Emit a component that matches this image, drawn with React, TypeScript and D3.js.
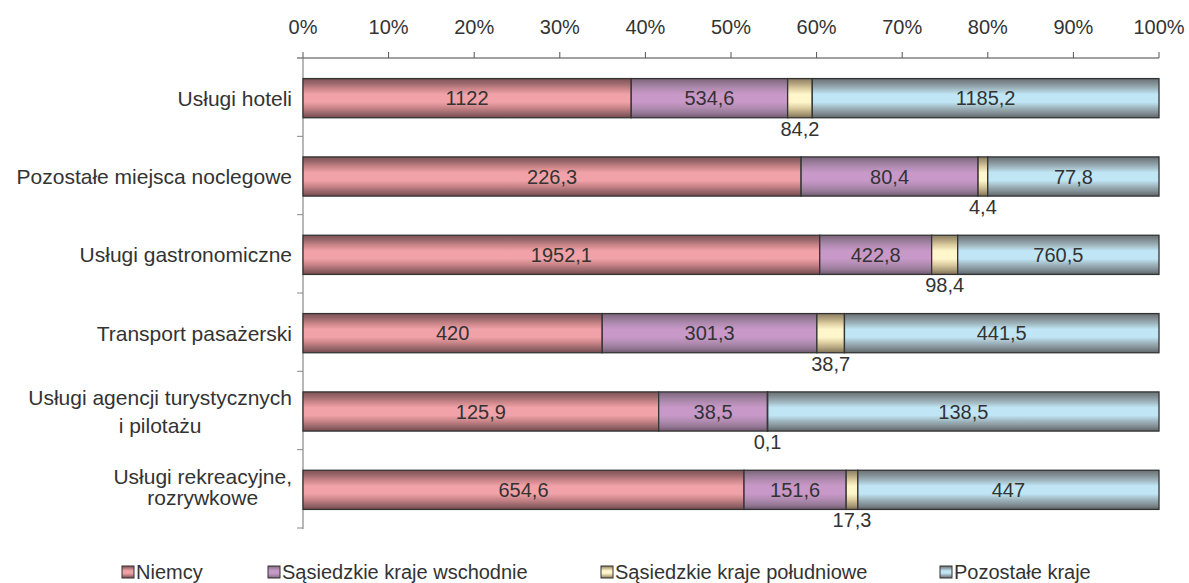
import React, { useEffect, useRef } from "react";
import * as d3 from "d3";

const categories = [
  "Usługi hoteli",
  "Pozostałe miejsca noclegowe",
  "Usługi gastronomiczne",
  "Transport pasażerski",
  "Usługi agencji turystycznych\ni pilotażu",
  "Usługi rekreacyjne,\nrozrywkowe",
];
const seriesNames = [
  "Niemcy",
  "Sąsiedzkie kraje wschodnie",
  "Sąsiedzkie kraje południowe",
  "Pozostałe kraje",
];
const niemcy = [1122, 226.3, 1952.1, 420, 125.9, 654.6];
const wschodnie = [534.6, 80.4, 422.8, 301.3, 38.5, 151.6];
const poludniowe = [84.2, 4.4, 98.4, 38.7, 0.1, 17.3];
const pozostale = [1185.2, 77.8, 760.5, 441.5, 138.5, 447];
const tickValues = [0, 0.1, 0.2, 0.3, 0.4, 0.5, 0.6, 0.7, 0.8, 0.9, 1];

const W = 1189;
const H = 583;
const FONT = "'Liberation Sans', Arial, Helvetica, sans-serif";
const TEXT = "#333";

const gradients: { id: string; stops: [number, string][] }[] = [
  {
    id: "g0",
    stops: [
      [0, "#7e5256"], [0.12, "#9a686c"], [0.25, "#c88488"], [0.4, "#f0a2a8"],
      [0.6, "#f0a2a8"], [0.75, "#c88488"], [0.88, "#9a686c"], [1, "#744a4e"],
    ],
  },
  {
    id: "g1",
    stops: [
      [0, "#7a6479"], [0.12, "#957996"], [0.25, "#b08bb0"], [0.4, "#c898c8"],
      [0.6, "#c898c8"], [0.75, "#b08bb0"], [0.88, "#957996"], [1, "#6f596f"],
    ],
  },
  {
    id: "g2",
    stops: [
      [0, "#8a7c60"], [0.12, "#b0a07c"], [0.25, "#dccca0"], [0.4, "#fff6cc"],
      [0.6, "#fff6cc"], [0.75, "#dccca0"], [0.88, "#b0a07c"], [1, "#7e7054"],
    ],
  },
  {
    id: "g3",
    stops: [
      [0, "#687074"], [0.12, "#828e94"], [0.25, "#9eb4bc"], [0.4, "#c0e6f6"],
      [0.6, "#c0e6f6"], [0.75, "#9eb4bc"], [0.88, "#828e94"], [1, "#5e666a"],
    ],
  },
];

const fmt = (v: number) => String(v).replace(".", ",");

export default function App() {
  const ref = useRef<SVGSVGElement | null>(null);

  useEffect(() => {
    const svg = d3.select(ref.current);
    svg.selectAll("*").remove();

    const defs = svg.append("defs");
    gradients.forEach((g) => {
      const lg = defs
        .append("linearGradient")
        .attr("id", g.id)
        .attr("x1", 0)
        .attr("y1", 0)
        .attr("x2", 0)
        .attr("y2", 1);
      g.stops.forEach(([o, c]) =>
        lg.append("stop").attr("offset", o).attr("stop-color", c)
      );
    });

    const x = d3.scaleLinear().domain([0, 1]).range([303, 1159]);
    const y = d3
      .scaleBand<string>()
      .domain(categories)
      .range([59, 529])
      .paddingInner(0.5)
      .paddingOuter(0.25);

    const rows = categories.map((c, i) => ({
      cat: c,
      vals: [niemcy[i], wschodnie[i], poludniowe[i], pozostale[i]],
    }));
    const stack = d3
      .stack<any>()
      .keys([0, 1, 2, 3] as any)
      .value((d: any, k: any) => d.vals[k])
      .offset(d3.stackOffsetExpand);
    const series = stack(rows as any);

    // Top axis
    const axisG = svg.append("g");
    axisG
      .append("line")
      .attr("x1", 297)
      .attr("x2", x(1))
      .attr("y1", 58)
      .attr("y2", 58)
      .attr("stroke", "#444")
      .attr("stroke-width", 1.2);
    tickValues.forEach((t) => {
      axisG
        .append("line")
        .attr("x1", x(t))
        .attr("x2", x(t))
        .attr("y1", 52)
        .attr("y2", 58)
        .attr("stroke", "#555");
      axisG
        .append("text")
        .attr("x", x(t))
        .attr("y", 34)
        .attr("text-anchor", "middle")
        .attr("font-family", FONT)
        .attr("font-size", 20)
        .attr("fill", TEXT)
        .text(d3.format(".0%")(t));
    });

    // Left axis
    const step = y.step();
    axisG
      .append("line")
      .attr("x1", x(0))
      .attr("x2", x(0))
      .attr("y1", 58)
      .attr("y2", 529)
      .attr("stroke", "#888")
      .attr("stroke-width", 1.2);
    categories.forEach((c, i) => {
      const yy = 59 + step * (i + 1) - 1;
      axisG
        .append("line")
        .attr("x1", 297)
        .attr("x2", x(0))
        .attr("y1", yy)
        .attr("y2", yy)
        .attr("stroke", "#888");
    });

    // Category labels
    const lineGap: Record<number, number> = { 4: 27.5, 5: 21 };
    const lineShift: Record<number, number> = { 4: 0, 5: -3 };
    categories.forEach((c, i) => {
      const lines = c.split("\n");
      const cy = (y(c) as number) + y.bandwidth() / 2;
      if (lines.length === 1) {
        svg
          .append("text")
          .attr("x", 292)
          .attr("y", cy)
          .attr("dy", "0.35em")
          .attr("text-anchor", "end")
          .attr("font-family", FONT)
          .attr("font-size", 21)
          .attr("fill", TEXT)
          .text(c);
      } else {
        const gap = lineGap[i] ?? 21;
        const g = svg.append("g");
        const texts = lines.map((l, j) =>
          g
            .append("text")
            .attr("y", cy + (lineShift[i] ?? 0) + (j - (lines.length - 1) / 2) * gap)
            .attr("dy", "0.35em")
            .attr("text-anchor", "middle")
            .attr("font-family", FONT)
            .attr("font-size", 21)
            .attr("fill", TEXT)
            .text(l)
        );
        const widths = texts.map((t) => (t.node() as SVGTextElement).getComputedTextLength());
        const maxW = Math.max(...widths);
        texts.forEach((t) => t.attr("x", 292 - maxW / 2));
      }
    });

    // Bars
    series.forEach((s, k) => {
      const g = svg.append("g");
      s.forEach((d: any) => {
        const cat = d.data.cat;
        g.append("rect")
          .attr("x", x(d[0]))
          .attr("y", y(cat) as number)
          .attr("width", Math.max(0, x(d[1]) - x(d[0])))
          .attr("height", y.bandwidth())
          .attr("fill", `url(#g${k})`)
          .attr("stroke", "#333")
          .attr("stroke-width", 1.3);
      });
    });

    // Value labels
    series.forEach((s, k) => {
      s.forEach((d: any) => {
        const cat = d.data.cat;
        const v = d.data.vals[k];
        const cx = (x(d[0]) + x(d[1])) / 2;
        const by = y(cat) as number;
        const below = k === 2;
        svg
          .append("text")
          .attr("x", cx)
          .attr("y", below ? by + y.bandwidth() + 11 : by + y.bandwidth() / 2)
          .attr("dy", "0.35em")
          .attr("text-anchor", "middle")
          .attr("font-family", FONT)
          .attr("font-size", 20)
          .attr("fill", TEXT)
          .text(fmt(v));
      });
    });

    // Legend
    const legendX = [122, 268, 601, 940];
    seriesNames.forEach((n, k) => {
      svg
        .append("rect")
        .attr("x", legendX[k])
        .attr("y", 566)
        .attr("width", 12)
        .attr("height", 12)
        .attr("fill", `url(#g${k})`)
        .attr("stroke", "#333")
        .attr("stroke-width", 1);
      svg
        .append("text")
        .attr("x", legendX[k] + 14)
        .attr("y", 572)
        .attr("dy", "0.35em")
        .attr("font-family", FONT)
        .attr("font-size", 20)
        .attr("fill", TEXT)
        .text(n);
    });
  }, []);

  return (
    <svg
      ref={ref}
      width={W}
      height={H}
      style={{ position: "absolute", left: 0, top: 0, background: "#fff" }}
    />
  );
}
